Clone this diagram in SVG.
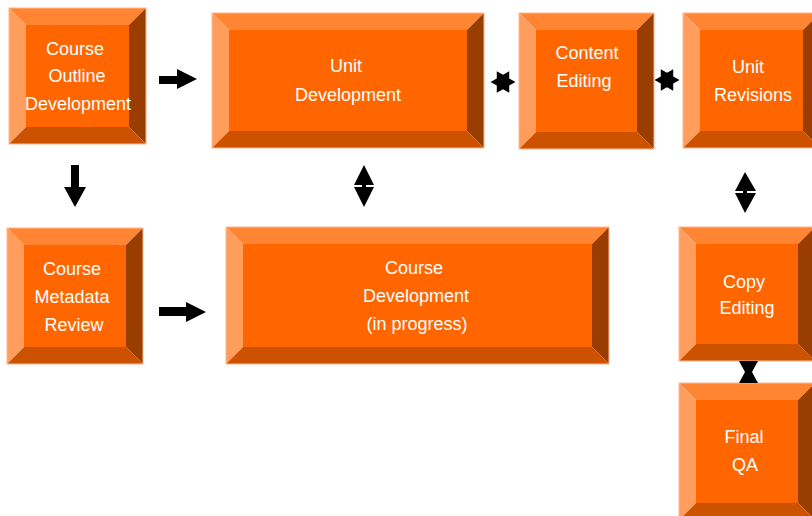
<svg xmlns="http://www.w3.org/2000/svg" width="812" height="516" viewBox="0 0 812 516">
<defs>
<style>
.t{fill:#FFFFFF;font-family:"Comic Sans MS","Liberation Sans",sans-serif;font-size:18px;text-anchor:middle}
.face{fill:#FF6600}
.bt{fill:#FF8533}
.bl{fill:#FF9D5C}
.br{fill:#993D00}
.bb{fill:#CC5200}
.edge{fill:none;stroke:#FFB890;stroke-width:1}
.ar{fill:#000000}
</style>
<polygon id="star" points="12.5,0 6.2,-3.6 6.25,-10.8 0,-7.2 -6.25,-10.8 -6.2,-3.6 -12.5,0 -6.2,3.6 -6.25,10.8 0,7.2 6.25,10.8 6.2,3.6"/>
</defs>
<rect width="812" height="516" fill="#FFFFFF"/>

<g id="course-outline">
<polygon class="bt" points="9,8 146,8 129,25 26,25"/>
<polygon class="bl" points="9,8 26,25 26,127 9,144"/>
<polygon class="br" points="146,8 146,144 129,127 129,25"/>
<polygon class="bb" points="9,144 146,144 129,127 26,127"/>
<rect class="face" x="26" y="25" width="103" height="102"/>
<rect class="edge" x="9" y="8" width="137" height="136"/>
<text class="t" x="75" y="55">Course</text>
<text class="t" x="77" y="82">Outline</text>
<text class="t" x="78" y="110">Development</text>
</g>

<g id="unit-development">
<polygon class="bt" points="212,13 484,13 467,30 229,30"/>
<polygon class="bl" points="212,13 229,30 229,131 212,148"/>
<polygon class="br" points="484,13 484,148 467,131 467,30"/>
<polygon class="bb" points="212,148 484,148 467,131 229,131"/>
<rect class="face" x="229" y="30" width="238" height="101"/>
<rect class="edge" x="212" y="13" width="272" height="135"/>
<text class="t" x="346" y="72">Unit</text>
<text class="t" x="348" y="101">Development</text>
</g>

<g id="content-editing">
<polygon class="bt" points="519,13 654,13 637,30 536,30"/>
<polygon class="bl" points="519,13 536,30 536,132 519,149"/>
<polygon class="br" points="654,13 654,149 637,132 637,30"/>
<polygon class="bb" points="519,149 654,149 637,132 536,132"/>
<rect class="face" x="536" y="30" width="101" height="102"/>
<rect class="edge" x="519" y="13" width="135" height="136"/>
<text class="t" x="587" y="59">Content</text>
<text class="t" x="584" y="87">Editing</text>
</g>

<g id="unit-revisions">
<polygon class="bt" points="683,13 820,13 803,30 700,30"/>
<polygon class="bl" points="683,13 700,30 700,131 683,148"/>
<polygon class="br" points="820,13 820,148 803,131 803,30"/>
<polygon class="bb" points="683,148 820,148 803,131 700,131"/>
<rect class="face" x="700" y="30" width="103" height="101"/>
<rect class="edge" x="683" y="13" width="137" height="135"/>
<text class="t" x="748" y="73">Unit</text>
<text class="t" x="753" y="101">Revisions</text>
</g>

<g id="course-metadata">
<polygon class="bt" points="7,228 143,228 126,245 24,245"/>
<polygon class="bl" points="7,228 24,245 24,347 7,364"/>
<polygon class="br" points="143,228 143,364 126,347 126,245"/>
<polygon class="bb" points="7,364 143,364 126,347 24,347"/>
<rect class="face" x="24" y="245" width="102" height="102"/>
<rect class="edge" x="7" y="228" width="136" height="136"/>
<text class="t" x="72" y="275">Course</text>
<text class="t" x="72" y="303">Metadata</text>
<text class="t" x="74" y="331">Review</text>
</g>

<g id="course-development">
<polygon class="bt" points="226,227 609,227 592,244 243,244"/>
<polygon class="bl" points="226,227 243,244 243,347 226,364"/>
<polygon class="br" points="609,227 609,364 592,347 592,244"/>
<polygon class="bb" points="226,364 609,364 592,347 243,347"/>
<rect class="face" x="243" y="244" width="349" height="103"/>
<rect class="edge" x="226" y="227" width="383" height="137"/>
<text class="t" x="414" y="274">Course</text>
<text class="t" x="416" y="302">Development</text>
<text class="t" x="417" y="330">(in progress)</text>
</g>

<g id="copy-editing">
<polygon class="bt" points="679,227 815,227 798,244 696,244"/>
<polygon class="bl" points="679,227 696,244 696,344 679,361"/>
<polygon class="br" points="815,227 815,361 798,344 798,244"/>
<polygon class="bb" points="679,361 815,361 798,344 696,344"/>
<rect class="face" x="696" y="244" width="102" height="100"/>
<rect class="edge" x="679" y="227" width="136" height="134"/>
<text class="t" x="744" y="288">Copy</text>
<text class="t" x="747" y="314">Editing</text>
</g>

<g id="final-qa">
<polygon class="bt" points="679,383 815,383 798,400 696,400"/>
<polygon class="bl" points="679,383 696,400 696,503 679,520"/>
<polygon class="br" points="815,383 815,520 798,503 798,400"/>
<polygon class="bb" points="679,520 815,520 798,503 696,503"/>
<rect class="face" x="696" y="400" width="102" height="103"/>
<rect class="edge" x="679" y="383" width="136" height="137"/>
<text class="t" x="744" y="443">Final</text>
<text class="t" x="745" y="471">QA</text>
</g>

<g id="connectors" class="ar">
<polygon points="159,76 177,76 177,69 197,79 177,89 177,84 159,84"/>
<polygon points="71,165 79,165 79,187 86,187 75,207 64,187 71,187"/>
<polygon points="159,307 186,307 186,302 206,312 186,322 186,316 159,316"/>
<polygon points="364,165 374,185 354,185"/>
<polygon points="354,187 374,187 364,207"/>
<rect x="362" y="184" width="4" height="4"/>
<polygon points="745,172 756,191 735,191"/>
<polygon points="735,193 756,193 745,213"/>
<rect x="743" y="190" width="4" height="4"/>
<polygon points="739,361 758,361 752,372 758,383 739,383 745,372"/>
<use href="#star" x="503" y="82"/>
<use href="#star" x="667" y="80"/>
</g>
</svg>
